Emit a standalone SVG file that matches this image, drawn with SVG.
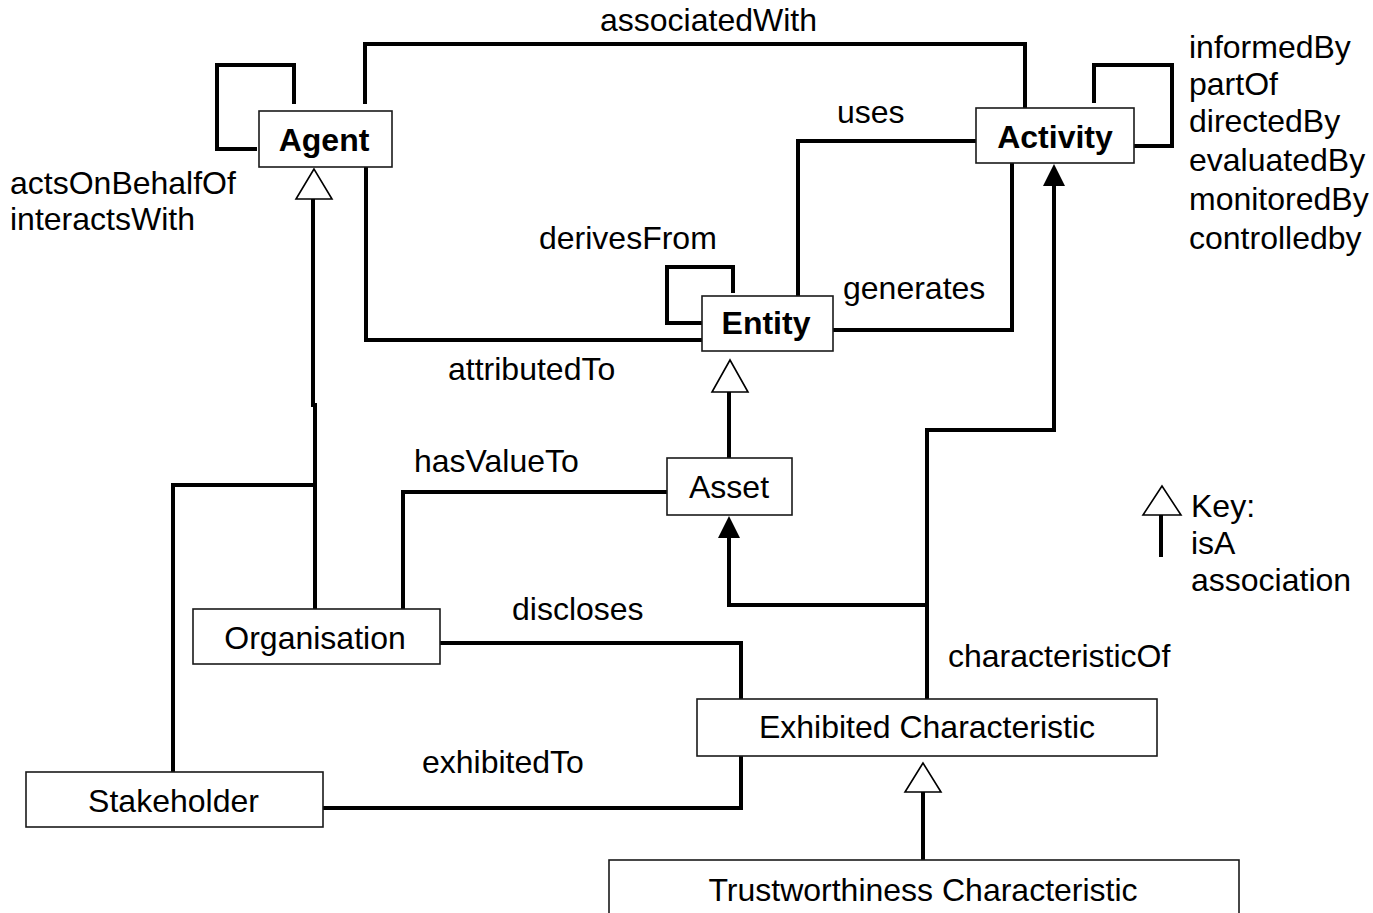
<svg xmlns="http://www.w3.org/2000/svg" width="1373" height="913" viewBox="0 0 1373 913">
  <style>
    .box { fill: #ffffff; stroke: #1a1a1a; stroke-width: 1.6; }
    .name { font-family: "Liberation Sans", Arial, sans-serif; font-size: 32px; fill: #000; text-anchor: middle; }
    .bold { font-weight: bold; }
    .lbl { font-family: "Liberation Sans", Arial, sans-serif; font-size: 32px; fill: #000; }
    .conn { fill: none; stroke: #000; stroke-width: 4; stroke-linejoin: miter; }
    .isa { fill: #ffffff; stroke: #000; stroke-width: 1.6; }
    .assoc { fill: #000; stroke: none; }
  </style>

  <!-- connectors -->
  <g id="connectors">
    <!-- associatedWith -->
    <path class="conn" d="M365,104 V44 H1025 V108"/>
    <!-- attributedTo -->
    <path class="conn" d="M366,167 V340 H702"/>
    <!-- uses -->
    <path class="conn" d="M976,141 H798 V296"/>
    <!-- generates -->
    <path class="conn" d="M833,330 H1012 V163"/>
    <!-- derivesFrom self loop -->
    <path class="conn" d="M733,293 V267 H667 V323 H702"/>
    <!-- actsOnBehalfOf / interactsWith self loop -->
    <path class="conn" d="M294,104 V65 H217 V149 H257"/>
    <!-- activity self loop -->
    <path class="conn" d="M1094,103 V65 H1172 V146 H1134"/>
    <!-- Asset isA Entity -->
    <path class="conn" d="M729,458 V392"/>
    <polygon class="isa" points="730,360 712,392 748,392"/>
    <!-- hasValueTo -->
    <path class="conn" d="M403,609 V492 H667"/>
    <!-- Organisation isA Agent -->
    <path class="conn" d="M315,609 V405 H313 V199"/>
    <polygon class="isa" points="314,169 296,199 332,199"/>
    <!-- Stakeholder isA Agent -->
    <path class="conn" d="M173,772 V485 H315"/>
    <!-- discloses -->
    <path class="conn" d="M440,643 H741 V699"/>
    <!-- exhibitedTo -->
    <path class="conn" d="M323,808 H741 V756"/>
    <!-- characteristicOf -->
    <path class="conn" d="M927,699 V430 H1054 V184"/>
    <polygon class="assoc" points="1054,164 1043,186 1065,186"/>
    <path class="conn" d="M927,605 H729 V536"/>
    <polygon class="assoc" points="729,516 718,538 740,538"/>
    <!-- Trustworthiness isA Exhibited -->
    <path class="conn" d="M923,860 V792"/>
    <polygon class="isa" points="923,763 905,792 941,792"/>
  </g>

  <!-- connector labels -->
  <g id="labels">
    <text class="lbl" x="600" y="31">associatedWith</text>
    <text class="lbl" x="1189" y="58">informedBy</text>
    <text class="lbl" x="1189" y="95">partOf</text>
    <text class="lbl" x="1189" y="132">directedBy</text>
    <text class="lbl" x="1189" y="171">evaluatedBy</text>
    <text class="lbl" x="1189" y="210">monitoredBy</text>
    <text class="lbl" x="1189" y="249">controlledby</text>
    <text class="lbl" x="10" y="194">actsOnBehalfOf</text>
    <text class="lbl" x="10" y="230">interactsWith</text>
    <text class="lbl" x="837" y="123">uses</text>
    <text class="lbl" x="539" y="249">derivesFrom</text>
    <text class="lbl" x="843" y="299">generates</text>
    <text class="lbl" x="448" y="380">attributedTo</text>
    <text class="lbl" x="414" y="472">hasValueTo</text>
    <text class="lbl" x="512" y="620">discloses</text>
    <text class="lbl" x="948" y="667">characteristicOf</text>
    <text class="lbl" x="422" y="773">exhibitedTo</text>
  </g>

  <!-- nodes -->
  <g id="agent">
    <rect class="box" x="259" y="111" width="133" height="56"/>
    <text class="name bold" x="324" y="151">Agent</text>
  </g>
  <g id="activity">
    <rect class="box" x="976" y="108" width="158" height="55"/>
    <text class="name bold" x="1055" y="148">Activity</text>
  </g>
  <g id="entity">
    <rect class="box" x="702" y="296" width="131" height="55"/>
    <text class="name bold" x="766" y="334">Entity</text>
  </g>
  <g id="asset">
    <rect class="box" x="667" y="458" width="125" height="57"/>
    <text class="name" x="729" y="498">Asset</text>
  </g>
  <g id="organisation">
    <rect class="box" x="193" y="609" width="247" height="55"/>
    <text class="name" x="315" y="649">Organisation</text>
  </g>
  <g id="exhibited-characteristic">
    <rect class="box" x="697" y="699" width="460" height="57"/>
    <text class="name" x="927" y="738">Exhibited Characteristic</text>
  </g>
  <g id="stakeholder">
    <rect class="box" x="26" y="772" width="297" height="55"/>
    <text class="name" x="173.5" y="812">Stakeholder</text>
  </g>
  <g id="trustworthiness-characteristic">
    <rect class="box" x="609" y="860" width="630" height="70"/>
    <text class="name" x="923" y="901">Trustworthiness Characteristic</text>
  </g>

  <!-- key -->
  <g id="key">
    <polygon class="isa" points="1162,486 1143,515 1181,515"/>
    <path class="conn" d="M1161,515 V557"/>
    <text class="lbl" x="1191" y="517">Key:</text>
    <text class="lbl" x="1191" y="554">isA</text>
    <text class="lbl" x="1191" y="591">association</text>
  </g>
</svg>
